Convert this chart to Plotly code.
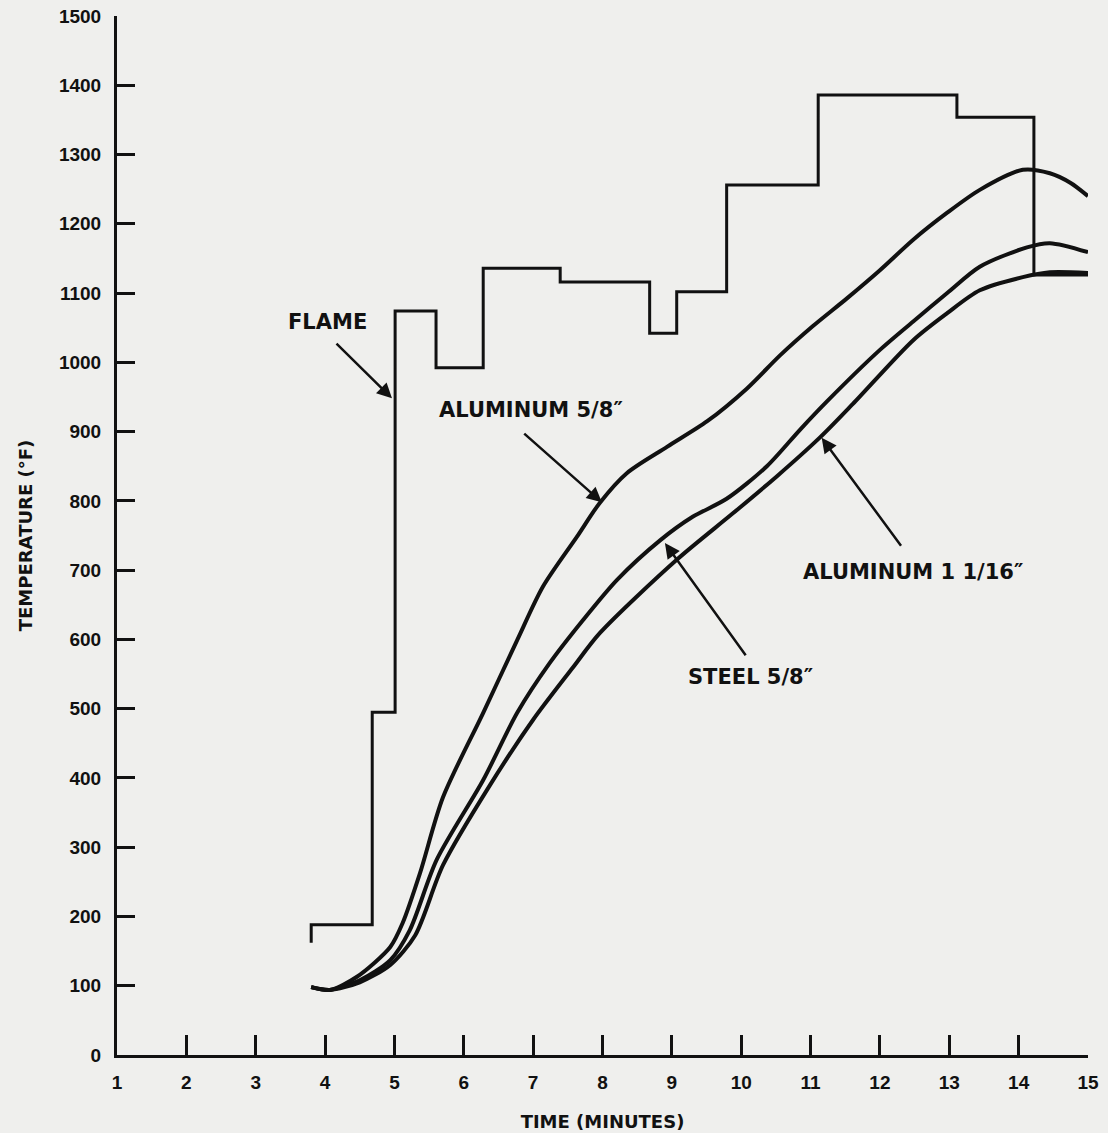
import plotly.graph_objects as go

# ---- data ----
flame_time = [3.80, 3.80, 4.68, 5.01, 5.60, 6.28, 7.39, 8.68, 9.07, 9.79, 11.11, 13.11, 14.22, 15.0]
flame_temp = [162, 188, 495, 1074, 992, 1136, 1116, 1042, 1102, 1256, 1386, 1354, 1126, 1126]

al58_time = [3.80, 4.07, 4.46, 4.94, 5.12, 5.37, 5.70, 6.28, 6.77, 7.14, 7.63, 7.96, 8.35, 8.93,
             9.51, 10.08, 10.56, 11.03, 11.52, 12.00, 12.48, 12.97, 13.44, 14.06, 14.45, 14.75, 15.0]
al58_temp = [98, 94, 113, 156, 191, 263, 372, 494, 599, 676, 748, 797, 840, 878,
             915, 962, 1010, 1052, 1092, 1133, 1177, 1216, 1249, 1278, 1273, 1259, 1240]

steel58_time = [3.80, 4.07, 4.50, 4.94, 5.22, 5.61, 6.28, 6.77, 7.24, 7.72, 8.21, 8.83, 9.30, 9.79,
                10.37, 10.85, 11.24, 12.00, 12.48, 12.97, 13.44, 14.12, 14.45, 15.0]
steel58_temp = [98, 94, 108, 137, 180, 282, 397, 494, 566, 628, 686, 743, 777, 803,
                850, 903, 944, 1018, 1059, 1100, 1138, 1166, 1172, 1159]

al116_time = [3.80, 4.07, 4.50, 4.94, 5.30, 5.70, 6.38, 7.00, 7.57, 7.96, 9.07, 9.88, 10.52, 11.14,
              11.61, 12.48, 12.97, 13.44, 14.06, 14.45, 15.0]
al116_temp = [98, 94, 105, 130, 173, 274, 390, 484, 559, 609, 715, 782, 836, 892,
              940, 1032, 1071, 1104, 1123, 1130, 1129]

x_ticks = list(range(1, 16))
y_ticks = list(range(0, 1501, 100))

labels = ["FLAME", "ALUMINUM 5/8\u2033", "STEEL 5/8\u2033", "ALUMINUM 1 1/16\u2033"]
label_x = [4.03, 6.97, 10.14, 12.48]
label_y = [1058, 931, 546, 697]
arrow_tip_x = [4.965, 7.99, 8.90, 11.16]
arrow_tip_y = [948, 798, 739, 891]
arrow_tail_x = [4.143, 6.85, 10.08, 12.32]
arrow_tail_y = [1029, 899, 575, 733]

# ---- figure ----
INK = "#111111"
PAPER = "#efefed"
fig = go.Figure()

fig.add_trace(go.Scatter(x=flame_time, y=flame_temp, mode="lines", line_shape="hv",
                         line=dict(color=INK, width=3), cliponaxis=False, showlegend=False))
for t, v in [(al58_time, al58_temp), (steel58_time, steel58_temp), (al116_time, al116_temp)]:
    fig.add_trace(go.Scatter(x=t, y=v, mode="lines", line=dict(color=INK, width=4, shape="spline", smoothing=0.8),
                             cliponaxis=False, showlegend=False))

text_font = dict(family="DejaVu Sans", size=21, color=INK)
for i, lab in enumerate(labels):
    fig.add_annotation(x=label_x[i], y=label_y[i], text="<b>%s</b>" % lab, showarrow=False,
                       font=text_font, xanchor="center", yanchor="middle")
    fig.add_annotation(x=arrow_tip_x[i], y=arrow_tip_y[i], ax=arrow_tail_x[i], ay=arrow_tail_y[i],
                       axref="x", ayref="y", text="", showarrow=True, arrowhead=2,
                       arrowsize=1.2, arrowwidth=2.5, arrowcolor=INK)

tick_font = dict(family="Liberation Sans", size=19, color=INK)
fig.update_xaxes(range=[1, 15], tickmode="array", tickvals=x_ticks,
                 ticktext=["<b>%d</b>" % v for v in x_ticks], automargin=False,
                 showline=True, linewidth=3, linecolor=INK, ticks="inside", ticklen=20,
                 tickwidth=3, tickcolor=INK, showgrid=False, zeroline=False,
                 tickfont=tick_font, ticklabelstandoff=8,
                 title=dict(text="<b>TIME (MINUTES)</b>", font=dict(family="DejaVu Sans", size=18, color=INK),
                            standoff=24))
fig.update_yaxes(range=[0, 1500], tickmode="array", tickvals=y_ticks,
                 ticktext=["<b>%d</b>" % v for v in y_ticks], automargin=False,
                 showline=True, linewidth=3, linecolor=INK, ticks="inside", ticklen=18,
                 tickwidth=3, tickcolor=INK, showgrid=False, zeroline=False,
                 tickfont=tick_font, ticklabelstandoff=9,
                 title=dict(text="<b>TEMPERATURE (\u00b0F)</b>", font=dict(family="DejaVu Sans", size=18, color=INK),
                            standoff=22))

fig.update_layout(width=1108, height=1133, paper_bgcolor=PAPER, plot_bgcolor=PAPER,
                  margin=dict(l=117, r=20, t=16, b=78, autoexpand=False), showlegend=False)

fig.write_html("out.html", config={"displayModeBar": False},
               post_script="document.body.style.margin='0';document.body.style.background='%s';" % PAPER)
